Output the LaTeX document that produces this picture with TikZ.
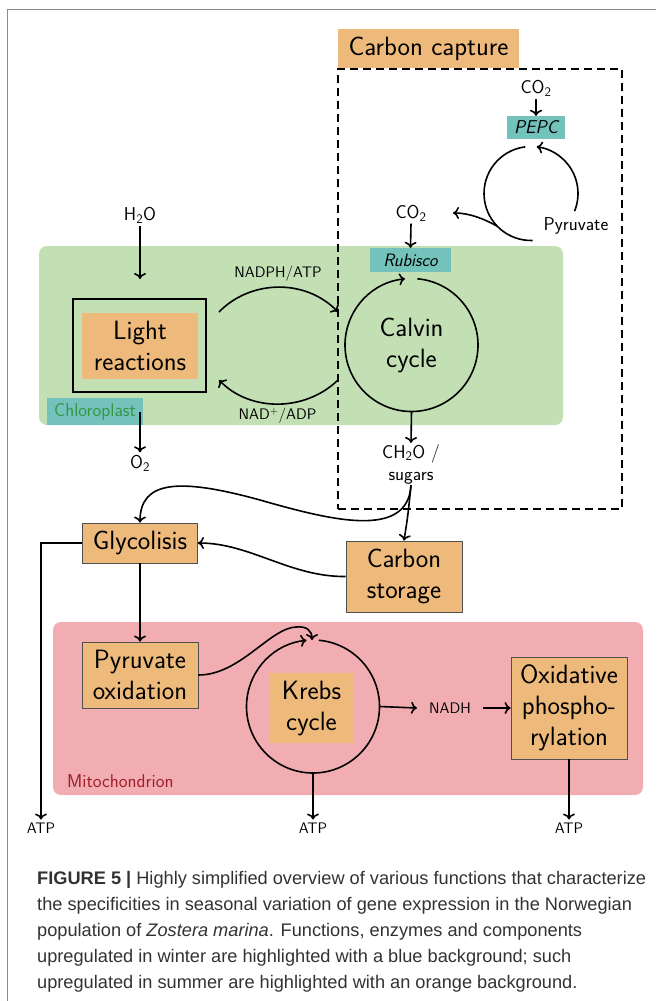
\documentclass[tikz,border=0pt]{standalone}
\usepackage{fontspec}
\usetikzlibrary{arrows.meta}
\newfontfamily\capfont{Liberation Sans}
\definecolor{orangeC}{RGB}{238,186,124}
\definecolor{greenC}{RGB}{195,224,181}
\definecolor{pinkC}{RGB}{242,173,179}
\definecolor{tealC}{RGB}{115,195,188}
\definecolor{chlorotext}{RGB}{55,150,70}
\definecolor{mitotext}{RGB}{160,30,40}
\definecolor{boxgray}{RGB}{80,80,80}
\definecolor{framegray}{RGB}{140,140,140}
\definecolor{captext}{RGB}{50,50,50}
\begin{document}
\begin{tikzpicture}[x=1pt,y=1pt,
  >={To[length=6pt,width=12pt]},
  lw/.style={line width=1.6pt},
  arr/.style={lw,->},
  big/.style={font=\sffamily\fontsize{26.5}{31}\selectfont},
  mid/.style={font=\sffamily\fontsize{18.6}{22}\selectfont},
  sml/.style={font=\sffamily\fontsize{15.3}{17}\selectfont},
  lbl/.style={inner sep=2.5pt, align=center},
  obox/.style={fill=orangeC, draw=boxgray, line width=0.9pt, inner sep=0pt, align=center, big},
  ofill/.style={fill=orangeC, inner sep=0pt, align=center, big},
  tbox/.style={fill=tealC, inner sep=0pt, align=center, mid},
  region/.style={rounded corners=8pt, inner sep=0pt},
  capline/.style={anchor=base west, inner sep=0pt, text=captext, font=\capfont\fontsize{18.2}{20}\selectfont}
]
\useasboundingbox (0,0) rectangle (656,-1001);
% journal frame
\draw[framegray, line width=1.3pt] (7.5,-1001) -- (7.5,-9.5) -- (656,-9.5);

% regions
\node[region, fill=greenC, minimum width=524pt, minimum height=179pt] (chloro) at (301,-335.5) {};
\node[region, fill=pinkC, minimum width=590pt, minimum height=173pt] (mito) at (348,-708.5) {};
\node[draw, line width=1.8pt, dash pattern=on 8pt off 5pt, minimum width=284pt, minimum height=440pt, inner sep=0pt] (capture) at (480,-289) {};

% labels of regions
\node[fill=tealC, minimum width=96pt, minimum height=27pt, inner sep=0pt, text=chlorotext, mid] (chlorolbl) at (95,-411.5) {Chloroplast};
\node[anchor=west, inner sep=0pt, text=mitotext, mid] (mitolbl) at (67,-781) {Mitochondrion};
\node[ofill, minimum width=181pt, minimum height=39pt] (captlbl) at (428.5,-48.5) {Carbon capture};

% carbon capture cycle (PEPC)
\node[lbl, mid] (co2a) at (536,-88.7) {CO\textsubscript{2}};
\node[tbox, minimum width=58pt, minimum height=23pt, font=\sffamily\itshape\fontsize{18.6}{22}\selectfont] (pepc) at (536,-127.5) {PEPC};
\coordinate (pepcc) at (531,-193.5);
\node[lbl, mid] (pyr) at (576,-226) {Pyruvate};
\node[lbl, mid] (co2b) at (411,-213) {CO\textsubscript{2}};
\coordinate (co2bend) at (453,-213);
\node[tbox, minimum width=81pt, minimum height=24pt, font=\sffamily\itshape\fontsize{18}{22}\selectfont] (rubisco) at (410.5,-260) {Rubisco};

\draw[arr] (co2a.south) -- (pepc.north);
\draw[arr] ([shift={(-22:47)}]pepcc) arc[start angle=-22, end angle=83, radius=47];
\draw[lw] ([shift={(97:47)}]pepcc) arc[start angle=97, end angle=272, radius=47];
\draw[arr] ([shift={(224:47)}]pepcc) .. controls (484,-219) and (470,-213) .. (co2bend);
\draw[arr] (co2b.south) -- (rubisco.north);

% light reactions
\node[lbl, mid] (h2o) at (140,-215) {H\textsubscript{2}O};
\coordinate (h2oend) at (140,-279);
\node[draw, line width=2.2pt, minimum width=133pt, minimum height=93pt, inner sep=0pt] (lightf) at (139.5,-345.5) {};
\node[ofill, minimum width=116pt, minimum height=66pt] (light) at (140,-346) {Light\\reactions};
\coordinate (o2start) at (140,-412);
\node[lbl, mid] (o2) at (140,-463) {O\textsubscript{2}};
\draw[arr] (h2o.south) -- (h2oend);
\draw[arr] (o2start) -- (o2.north);

% Calvin cycle
\node[circle, minimum size=133pt, inner sep=0pt, align=center, big] (calvin) at (411.5,-345) {Calvin\\cycle};
\draw[arr] ([shift={(85:66.5)}]calvin.center) arc[start angle=85, end angle=-264.4, radius=66.5];

% exchange arcs
\coordinate (na1) at (219,-312);
\coordinate (na2) at (338,-312);
\coordinate (nb1) at (338,-380);
\coordinate (nb2) at (219,-380);
\draw[arr] (na1) .. controls (250,-280) and (305,-278) .. (na2);
\draw[arr] (nb1) .. controls (305,-412) and (250,-412) .. (nb2);
\node[lbl, sml] (nadph) at (278,-274) {NADPH/ATP};
\node[lbl, sml] (nadp) at (277.5,-416) {NAD\textsuperscript{+}/ADP};

% sugars
\node[lbl, mid, inner sep=1pt] (ch2o) at (411,-464) {CH\textsubscript{2}O /\\sugars};
\draw[arr] (calvin.south) -- (ch2o.north);

% glycolysis and storage
\node[obox, minimum width=115pt, minimum height=40pt] (glyco) at (140,-543) {Glycolisis};
\node[obox, minimum width=116pt, minimum height=71pt] (cstore) at (404,-576.5) {Carbon\\storage};
\draw[arr] (ch2o.south) .. controls (408,-540) and (330,-520) .. (260,-500) .. controls (180,-478) and (140,-480) .. (glyco.north);
\draw[arr] (ch2o.south) .. controls (408,-515) .. (cstore.north);
\draw[arr] (cstore.west) .. controls (290,-577) and (250,-543) .. (glyco.east);

% mitochondrion
\node[obox, minimum width=116pt, minimum height=66pt] (pyrox) at (140,-675) {Pyruvate\\oxidation};
\node[circle, minimum size=133pt, inner sep=0pt] (krebsc) at (313,-706.5) {};
\node[ofill, minimum width=83pt, minimum height=70pt] (krebs) at (311.5,-708) {Krebs\\cycle};
\draw[arr] ([shift={(85:66.5)}]krebsc.center) arc[start angle=85, end angle=-264.4, radius=66.5];
\coordinate (kin) at (312,-640);
\node[sml, inner xsep=12pt, inner ysep=2pt] (nadh) at (450,-708) {NADH};
\node[obox, minimum width=116pt, minimum height=102pt] (ox) at (569,-708) {Oxidative\\phospho-\\rylation};

\node[lbl, sml, inner sep=3pt] (atpa) at (41,-828) {ATP};
\node[lbl, sml, inner sep=3pt] (atpb) at (313,-828) {ATP};
\node[lbl, sml, inner sep=3pt] (atpc) at (569,-828) {ATP};

\draw[arr] (glyco.south) -- (pyrox.north);
\draw[arr] (glyco.west) -| (atpa.north);
\draw[arr] (pyrox.east) .. controls (240,-675) and (270,-628) .. (296,-627) .. controls (306,-626) and (312,-630) .. (kin);
\draw[arr] (krebsc.east) -- (nadh.west);
\draw[arr] (nadh.east) -- (ox.west);
\draw[arr] (krebsc.south) -- (atpb.north);
\draw[arr] (ox.south) -- (atpc.north);

% caption
\node[capline] (cap1) at (37,-884) {\textbf{FIGURE 5 |} Highly simplified overview of various functions that characterize};
\node[capline] (cap2) at (37,-910) {the specificities in seasonal variation of gene expression in the Norwegian};
\node[capline] (cap3) at (37,-936) {population of \textit{Zostera marina}. Functions, enzymes and components};
\node[capline] (cap4) at (37,-962) {upregulated in winter are highlighted with a blue background; such};
\node[capline] (cap5) at (37,-988) {upregulated in summer are highlighted with an orange background.};
\end{tikzpicture}
\end{document}
